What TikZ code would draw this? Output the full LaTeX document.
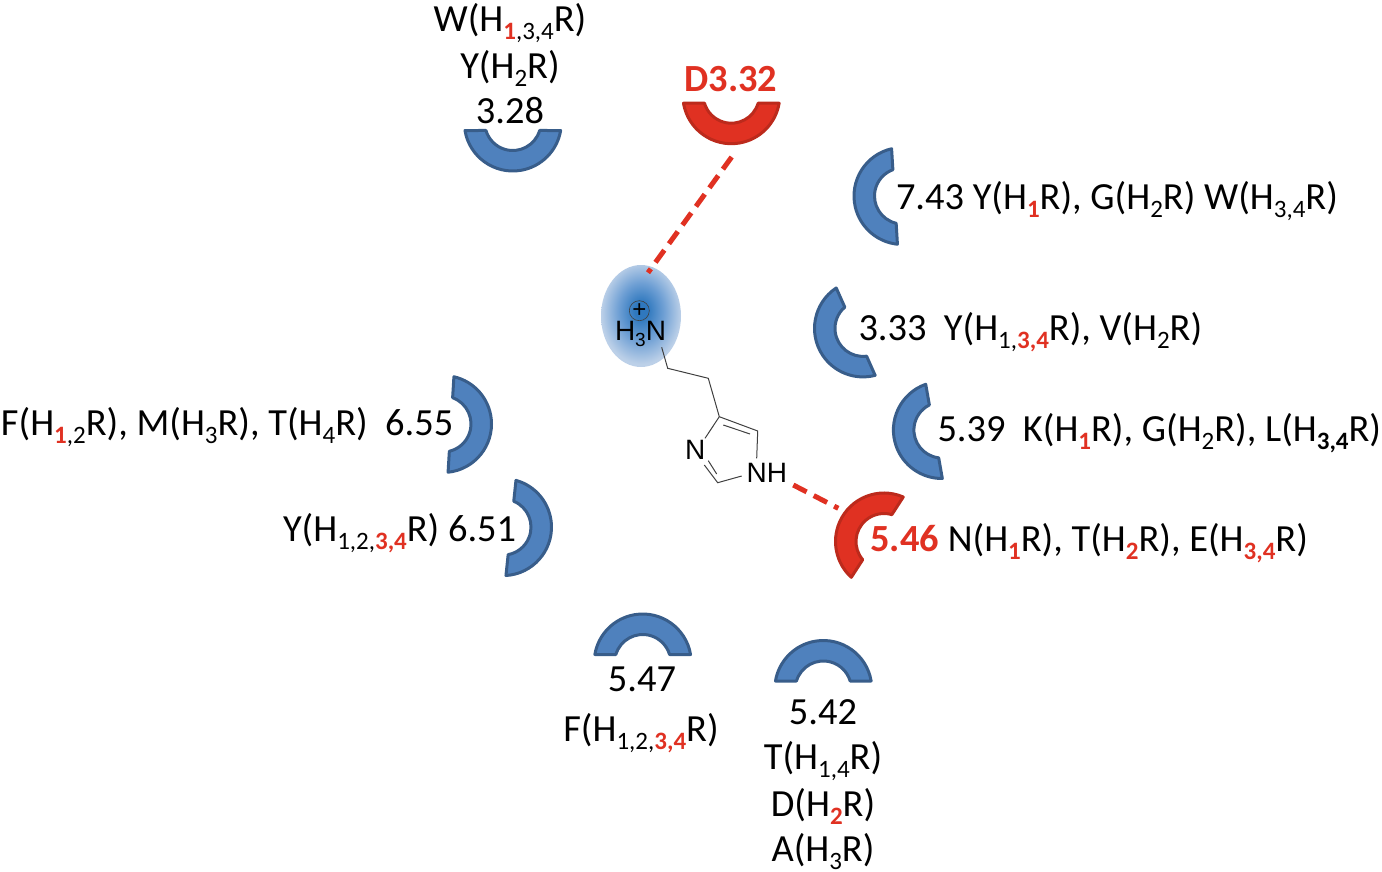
\documentclass[tikz,border=0pt]{standalone}
\usepackage{fontspec}
\setmainfont{Carlito}
\newfontfamily\chemfont{Liberation Sans}
\usetikzlibrary{shapes.geometric}
\definecolor{bfill}{HTML}{4F81BD}
\definecolor{bline}{HTML}{385D8A}
\definecolor{rfill}{HTML}{E03122}
\definecolor{rline}{HTML}{BC2A1C}
\definecolor{rtext}{HTML}{E03122}
\definecolor{halo}{HTML}{2F78BE}
\definecolor{halomid}{HTML}{6E9FD4}
\definecolor{haloedge}{HTML}{BCD0E8}
\definecolor{bond}{HTML}{404040}
\pgfdeclareradialshading{haloshade}{\pgfpoint{0bp}{3bp}}{color(0bp)=(halo);color(4bp)=(halo);color(14bp)=(halomid);color(25bp)=(haloedge);color(50bp)=(haloedge)}
\newcommand\lowsub[1]{\raisebox{-0.22em}{\fontsize{25}{25}\selectfont #1}}
\newcommand\rsub[1]{\raisebox{-0.22em}{\fontsize{25}{25}\selectfont\bfseries\color{rtext}#1}}
\newcommand\crescent[5]{%
  \coordinate (#1) at (#2,-#3);
  \begin{scope}[shift={(#2,-#3)},rotate={#4-90}]
    \draw[#5] (189.5:48.5) arc[start angle=189.5,end angle=350.5,radius=48.5]
      -- (343.4:28) arc[start angle=343.4,end angle=196.6,radius=28] -- cycle;
  \end{scope}}
\tikzset{
  pocket/.style={fill=bfill,draw=bline,line width=3pt,line join=round},
  keypocket/.style={fill=rfill,draw=rline,line width=3pt,line join=round},
  lab/.style={inner sep=0pt,outer sep=0pt,font=\fontsize{38.4}{38.4}\selectfont,text=black,yshift=-1.5pt},
  labl/.style={lab,anchor=base west},
  labc/.style={lab,anchor=base},
  atom/.style={inner sep=0pt,outer sep=0pt,anchor=base west,font=\chemfont\fontsize{28}{28}\selectfont,text=black},
  skeleton/.style={draw=bond,line width=1pt},
  hbond/.style={draw=rfill,line width=5pt,dash pattern=on 15pt off 8pt}
}
\begin{document}
\begin{tikzpicture}[x=1pt,y=1pt]
\useasboundingbox (0,-872) rectangle (1382,0);
% pockets
\crescent{p328}{512.8}{122.5}{90}{pocket}
\crescent{p332}{731.3}{95.2}{90}{keypocket}
\crescent{p743}{902.5}{196}{3.5}{pocket}
\crescent{p333}{863}{328.4}{24}{pocket}
\crescent{p539}{941.9}{430}{10}{pocket}
\crescent{p546}{884}{541.5}{-32.9}{keypocket}
\crescent{p655}{443}{424}{176.5}{pocket}
\crescent{p651}{503}{527.1}{174}{pocket}
\crescent{p547}{642.7}{662.5}{270}{pocket}
\crescent{p542}{823.3}{689}{270}{pocket}
% halo
\node[ellipse,minimum width=80pt,minimum height=102pt,inner sep=0pt,shading=haloshade] (halo) at (641,-316) {};
% atoms
\node[atom] (amine) at (615,-340.5) {H\raisebox{-0.2em}{\fontsize{19}{19}\selectfont 3}N};
\node[atom] (ringN) at (685,-459.8) {N};
\node[atom] (ringNH) at (746.7,-482) {NH};
\node[circle,draw=bond,line width=0.6pt,minimum size=20pt,inner sep=0pt,font=\chemfont\fontsize{24}{24}\selectfont] (charge) at (639.3,-310.7) {+};
% skeleton
\coordinate (c1) at (661.7,-347.3);
\coordinate (c2) at (667.7,-368.3);
\coordinate (c3) at (708.3,-378.3);
\coordinate (c4) at (719.3,-416.7);
\coordinate (c5) at (757.7,-431);
\coordinate (n1a) at (756.7,-458.3);
\coordinate (n1b) at (741.7,-476);
\coordinate (c6) at (717.7,-482.7);
\coordinate (n2a) at (704.3,-465);
\coordinate (n2b) at (705,-438.3);
\coordinate (d1a) at (723.3,-425);
\coordinate (d1b) at (750,-434);
\coordinate (d2a) at (716.7,-474);
\coordinate (d2b) at (708.3,-460.7);
\draw[skeleton] (c1) -- (c2) -- (c3) -- (c4) -- (c5) -- (n1a);
\draw[skeleton] (n1b) -- (c6) -- (n2a);
\draw[skeleton] (n2b) -- (c4);
\draw[skeleton] (d1a) -- (d1b);
\draw[skeleton] (d2a) -- (d2b);
% hydrogen bonds
\coordinate (b1a) at (731.7,-157);
\coordinate (b1b) at (648,-272.7);
\coordinate (b2a) at (793.3,-485);
\coordinate (b2b) at (838.3,-508.3);
\draw[hbond] (b1a) -- (b1b);
\draw[hbond] (b2a) -- (b2b);
% labels
\node[labc] (t1) at (510,-30) {W(H\rsub{1}\lowsub{,3,4}R)};
\node[labc] (t2) at (510,-77) {Y(H\lowsub{2}R)};
\node[labc] (t3) at (510,-121.7) {3.28};
\node[labc,text=rtext,font=\fontsize{38.4}{38.4}\selectfont\bfseries] (t4) at (731,-90) {D3.32};
\node[labl] (t5) at (896,-208) {7.43 Y(H\rsub{1}R), G(H\lowsub{2}R) W(H\lowsub{3,4}R)};
\node[labl] (t6) at (858.5,-339) {3.33\ \ Y(H\lowsub{1,}\rsub{3,4}R), V(H\lowsub{2}R)};
\node[labl] (t7) at (937.5,-439.5) {5.39\ \ K(H\rsub{1}R), G(H\lowsub{2}R), L(H\lowsub{\bfseries 3,4}R)};
\node[labl] (t8) at (870.5,-550) {\textcolor{rtext}{\bfseries 5.46} N(H\rsub{1}R), T(H\rsub{2}R), E(H\rsub{3,4}R)};
\node[labl] (t9) at (1,-434) {F(H\rsub{1}\lowsub{,2}R), M(H\lowsub{3}R), T(H\lowsub{4}R)\ \ 6.55};
\node[labl] (t10) at (283,-540) {Y(H\lowsub{1,2,}\rsub{3,4}R) 6.51};
\node[labc] (t11) at (642,-690) {5.47};
\node[labc] (t12) at (641,-740) {F(H\lowsub{1,2,}\rsub{3,4}R)};
\node[labc] (t13) at (823,-723) {5.42};
\node[labc] (t14) at (823,-768) {T(H\lowsub{1,4}R)};
\node[labc] (t15) at (823,-815) {D(H\rsub{2}R)};
\node[labc] (t16) at (823,-860) {A(H\lowsub{3}R)};
\end{tikzpicture}
\end{document}
